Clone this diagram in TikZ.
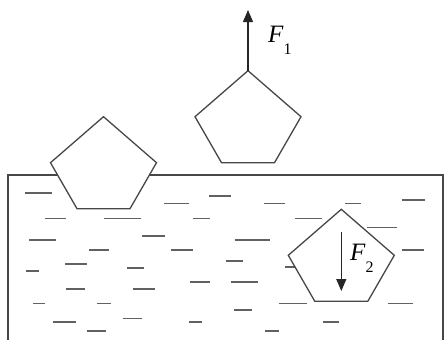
\documentclass[tikz,border=0pt]{standalone}
\usepackage{fontspec}
\setmainfont{Liberation Serif}
\usepackage{tikz}
\usetikzlibrary{arrows.meta}
\colorlet{cLine}{black!72}
\colorlet{cWater}{black!62}
\newcommand\forcesub[1]{\raisebox{-12pt}{\fontsize{16}{16}\selectfont #1}}
\tikzset{
  outline/.style={draw=cLine, line width=1.3pt, line join=miter},
  ripple/.style={draw=cWater, line width=1.6pt},
  force/.style={draw=black!85, line width=1.2pt, -{Triangle[length=12pt, width=10pt]}},
  forcelabel/.style={font=\fontsize{25}{25}\selectfont, inner sep=0pt, anchor=base west},
  block/.pic={
    \draw[outline, fill=white] (0,0) coordinate (-top) -- (53,46) -- (26.5,92)
      -- (-26.5,92) -- (-53,46) -- cycle;
  },
}

\begin{document}
\begin{tikzpicture}[x=1pt, y=-1pt]
  \useasboundingbox (0,0) rectangle (444,340);
  % vessel
  \draw[outline] (8,340) -- (8,175) -- (443,175) -- (443,340);
  % water lines
  \foreach \xa/\xb/\y in {25/52/192.7, 209/231/196, 164/189/203.5, 264/285/203.5,
      345/361/203.5, 401.7/424.5/200, 44.5/66/218.3, 104/141.3/218.3, 192.7/210/218.3,
      295/321.7/218.3, 366.7/397.3/227.5, 29/55.5/239.7, 141.5/165/235.7,
      234.5/270/239.7, 401.7/424/249.7, 89.3/108.7/250, 170.5/193/250,
      225.5/243/260.7, 65.2/86.5/264.2, 25.5/38.7/270.7, 127/144/267.8,
      285/300/267, 66.3/85/289, 132.5/155.3/289, 189.5/209.5/282.2,
      230.5/257.8/282.2, 33.3/44.5/303.6, 96.5/111/303.6, 279/307.3/303.6,
      387.5/412.5/303.6, 234.3/252/309.8, 52.5/75.7/321.7, 122.8/141.5/318.5,
      189.3/202.3/321.7, 322.7/338.5/321.7, 87/106/330.7, 264.7/278.8/330.7}
    \draw[ripple] (\xa,\y) -- (\xb,\y);
  % blocks
  \pic (p1) at (103.5,116.7) {block};
  \pic (p2) at (248,70.7) {block};
  \pic (p3) at (341.3,209.3) {block};
  % forces
  \coordinate (f1end) at (248,10);
  \draw[force] (p2-top) -- (f1end);
  \node[forcelabel] (f1) at (268,42) {\textit{F}\forcesub{1}};
  \coordinate (f2start) at (341.3,231.7);
  \coordinate (f2end) at (341.3,291);
  \draw[force] (f2start) -- (f2end);
  \node[forcelabel] (f2) at (350,260) {\textit{F}\forcesub{2}};
\end{tikzpicture}
\end{document}
